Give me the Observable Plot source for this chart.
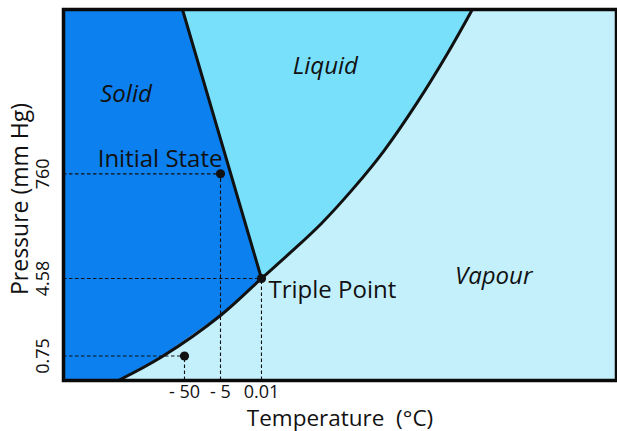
<!DOCTYPE html>
<html><head><meta charset="utf-8">
<script src="https://cdn.jsdelivr.net/npm/d3@7"></script>
<script src="https://cdn.jsdelivr.net/npm/@observablehq/plot@0.6"></script>
<style>html,body{margin:0;padding:0;background:#fff;} #chart svg{display:block}</style>
</head><body><div id="chart"></div>
<script>
// ---- data (schematic phase diagram of water) ----
const tempTicks = [-50, -5, 0.01];
const tempTickLabels = ["- 50", "- 5", "0.01"];
const pressureTicks = [0.75, 4.58, 760];
const pressureTickLabels = ["0.75", "4.58", "760"];

// sublimation + vaporisation curve (°C, mm Hg)
const curveT = [-66.4, -55.5, -5, 0.01, 8.2, 16.9, 25.9, 34.4, 43.9, 52.4, 59.4];
const curveP = [0, 0.735, 2.75, 4.58, 192.5, 402, 655, 930, 1299, 1668, 2000];

// fusion line
const fusionT = [0.01, -50.5];
const fusionP = [4.58, 2000];

// marked states
const pointNames = ["Initial State", "Triple Point", ""];
const pointT = [-5, 0.01, -50];
const pointP = [760, 4.58, 0.75];

// phase region labels
const phaseNames = ["Solid", "Liquid", "Vapour"];
const phaseT = [-64.5, 18, 65.4];
const phaseP = [1360, 1570, 19];

// schematic (piecewise) axis breakpoints
const tempBreaks = [-80, -50, -5, 0.01, 100];
const pressureBreaks = [0, 0.75, 4.58, 760, 2000];

// ---- tables ----
const curve = curveT.map((t, i) => ({t, p: curveP[i]}));
const fusion = fusionT.map((t, i) => ({t, p: fusionP[i]}));
const points = pointT.map((t, i) => ({t, p: pointP[i], name: pointNames[i]}));
const phases = phaseNames.map((name, i) => ({name, t: phaseT[i], p: phaseP[i]}));
const tMin = tempBreaks[0], pMin = pressureBreaks[0];
const iTriple = curveP.indexOf(4.58);
const solid = [...curve.slice(0, iTriple + 1), fusion[1]];
const liquid = [fusion[1], ...curve.slice(iTriple)];

// ---- layout ----
const W = 617, H = 431, mL = 63, mR = 1, mT = 9, mB = 51;
const iw = W - mL - mR, ih = H - mT - mB;
const xFrac = [0, 0.2188, 0.2839, 0.358, 1];
const yFrac = [0, 0.066, 0.275, 0.557, 1];

const C = {solid: "#0c80ee", liquid: "#79e0fb", vapour: "#c4f0fc", ink: "#111"};

const chart = Plot.plot({
  width: W, height: H,
  marginLeft: mL, marginRight: mR, marginTop: mT, marginBottom: mB,
  style: {fontFamily: "'Open Sans', sans-serif", background: "#fff", color: C.ink},
  x: {type: "linear", domain: tempBreaks, range: xFrac.map(f => mL + f * iw), axis: null},
  y: {type: "linear", domain: pressureBreaks, range: yFrac.map(f => mT + ih - f * ih), axis: null},
  marks: [
    Plot.frame({fill: C.vapour, stroke: "none"}),
    Plot.areaX(solid, {x1: tMin, x2: "t", y: "p", fill: C.solid}),
    Plot.line(liquid, {x: "t", y: "p", fill: C.liquid, stroke: "none"}),
    Plot.ruleY(points, {y: "p", x1: tMin, x2: "t", stroke: C.ink, strokeWidth: 1.1, strokeDasharray: "3.5,2.5"}),
    Plot.ruleX(points, {x: "t", y1: pMin, y2: "p", stroke: C.ink, strokeWidth: 1.1, strokeDasharray: "3.5,2.5"}),
    Plot.line(fusion, {x: "t", y: "p", stroke: C.ink, strokeWidth: 3}),
    Plot.line(curve, {x: "t", y: "p", stroke: C.ink, strokeWidth: 3, curve: "catmull-rom"}),
    Plot.dot(points, {x: "t", y: "p", r: 4.6, fill: C.ink, stroke: "none"}),
    Plot.text(points.filter(d => d.name === "Initial State"), {x: "t", y: "p", text: "name", textAnchor: "end", lineAnchor: "bottom", dx: 2, dy: -7, fontSize: 24, fill: C.ink}),
    Plot.text(points.filter(d => d.name === "Triple Point"), {x: "t", y: "p", text: "name", textAnchor: "start", lineAnchor: "bottom", dx: 7, dy: 20, fontSize: 24, fill: C.ink}),
    Plot.text(phases, {x: "t", y: "p", text: "name", fontSize: 24, fontStyle: "italic", lineAnchor: "middle", fill: C.ink}),
    Plot.axisX({ticks: tempTicks, tickFormat: d => tempTickLabels[tempTicks.indexOf(d)], tickSize: 0, tickPadding: 5, fontSize: 18, label: null}),
    Plot.text(pressureTicks, {y: d => d, text: (d, i) => pressureTickLabels[i], frameAnchor: "left", rotate: -90, dx: -20, lineAnchor: "middle", textAnchor: "middle", fontSize: 18, fill: C.ink}),
    Plot.text(["Temperature  (°C)"], {frameAnchor: "bottom", dy: 45, lineAnchor: "bottom", textAnchor: "middle", fontSize: 22.5, fill: C.ink}),
    Plot.text(["Pressure (mm Hg)"], {frameAnchor: "left", dx: -43, dy: 4, rotate: -90, lineAnchor: "middle", textAnchor: "middle", fontSize: 23, fill: C.ink}),
    Plot.frame({stroke: "#0a0a0a", strokeWidth: 3.5})
  ]
});
document.getElementById("chart").append(chart);
</script>
</body></html>
